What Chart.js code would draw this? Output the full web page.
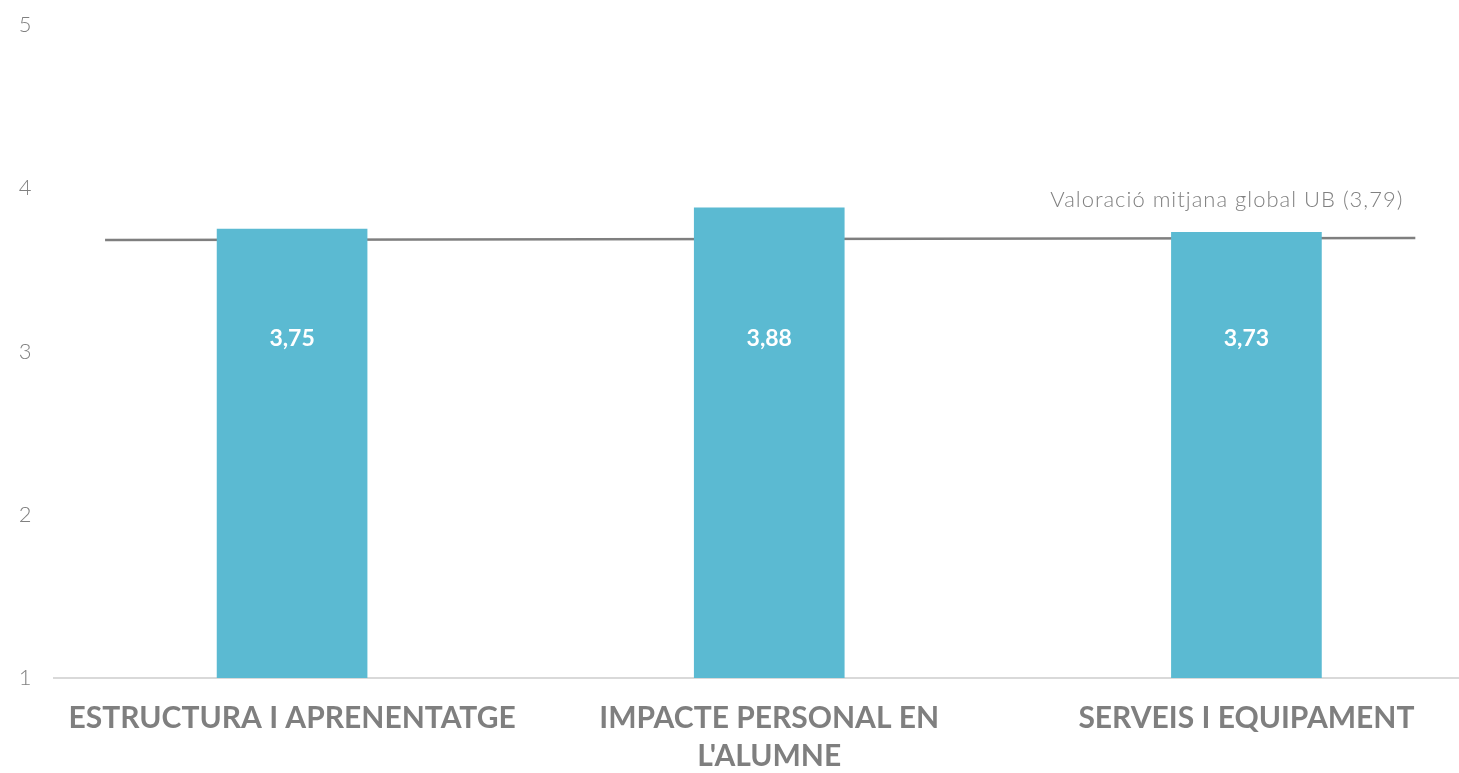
<!DOCTYPE html>
<html>
<head>
<meta charset="utf-8">
<script src="https://cdn.jsdelivr.net/npm/chart.js@4"></script>
<style>
  html, body { margin: 0; padding: 0; background: #fff; overflow: hidden; width: 1459px; height: 773px; }
  #wrap { width: 1485px; height: 773px; position: relative; }
</style>
</head>
<body>
<div id="wrap"><canvas id="c"></canvas></div>
<script>
const categories = [["ESTRUCTURA I APRENENTATGE"], ["IMPACTE PERSONAL EN", "L'ALUMNE"], ["SERVEIS I EQUIPAMENT"]];
const values = [3.75, 3.88, 3.73];
const valueLabels = ["3,75", "3,88", "3,73"];
// average reference line: start/end positions in category-index units, and values
const avgLineX = [-0.392, 2.354];
const avgLineY = [3.683, 3.695];
const avgLabel = "Valoració mitjana global UB (3,79)";
const yTicks = [1, 2, 3, 4, 5];
const dataLabelLevel = 3.08;

function catPixel(xs, v) {
  const p0 = xs.getPixelForValue(0);
  const p1 = xs.getPixelForValue(1);
  return p0 + v * (p1 - p0);
}

const avgLinePlugin = {
  id: 'avgLine',
  beforeDatasetsDraw(chart) {
    const ctx = chart.ctx;
    const xs = chart.scales.x, ys = chart.scales.y;
    ctx.save();
    ctx.strokeStyle = '#7f7f7f';
    ctx.lineWidth = 2.5;
    ctx.beginPath();
    avgLineX.forEach((v, i) => {
      const px = catPixel(xs, v), py = ys.getPixelForValue(avgLineY[i]);
      if (i === 0) ctx.moveTo(px, py); else ctx.lineTo(px, py);
    });
    ctx.stroke();
    ctx.restore();
  },
  afterDatasetsDraw(chart) {
    const ctx = chart.ctx;
    const xs = chart.scales.x, ys = chart.scales.y;
    ctx.save();
    ctx.fillStyle = '#ffffff';
    ctx.font = 'bold 23px Lato, "Open Sans", sans-serif';
    ctx.textAlign = 'center';
    ctx.textBaseline = 'middle';
    chart.getDatasetMeta(0).data.forEach((bar, i) => {
      ctx.fillText(valueLabels[i], bar.x, ys.getPixelForValue(dataLabelLevel));
    });
    const n = avgLineX.length - 1;
    const ex = catPixel(xs, avgLineX[n]);
    const ey = ys.getPixelForValue(avgLineY[n]);
    ctx.fillStyle = '#808080';
    ctx.font = '300 22px Lato, "Open Sans", sans-serif';
    if ('letterSpacing' in ctx) ctx.letterSpacing = '1px';
    ctx.textAlign = 'right';
    ctx.fillText(avgLabel, ex - 12, ey - 38);
    ctx.restore();
  }
};

new Chart(document.getElementById('c'), {
  type: 'bar',
  data: {
    labels: categories,
    datasets: [
      {
        data: values,
        backgroundColor: '#5BBAD2',
        barThickness: 150
      }
    ]
  },
  options: {
    responsive: true,
    maintainAspectRatio: false,
    animation: false,
    layout: { padding: { top: 0, right: 0, left: 0, bottom: 0 } },
    plugins: { legend: { display: false }, tooltip: { enabled: false } },
    scales: {
      x: {
        type: 'category',
        grid: { display: false, drawTicks: false },
        border: { display: true, color: '#d9d9d9', width: 2 },
        ticks: {
          color: '#7f7f7f',
          font: { family: 'Lato, "Open Sans", sans-serif', weight: 'bold', size: 30, lineHeight: 1.25 },
          padding: 22,
          maxRotation: 0,
          autoSkip: false
        },
        afterFit: s => { s.height = 95; s.paddingLeft = 0; s.paddingRight = 0; }
      },
      y: {
        min: 1,
        max: 5,
        afterBuildTicks: s => { s.ticks = yTicks.map(v => ({ value: v })); },
        grid: { display: false, drawTicks: false },
        border: { display: false },
        ticks: {
          color: '#808080',
          font: { family: 'Lato, "Open Sans", sans-serif', weight: '300', size: 22 },
          padding: 22
        },
        afterFit: s => { s.width = 53.5; s.paddingTop = 25; s.paddingBottom = 0; }
      }
    }
  },
  plugins: [avgLinePlugin]
});
</script>
</body>
</html>
